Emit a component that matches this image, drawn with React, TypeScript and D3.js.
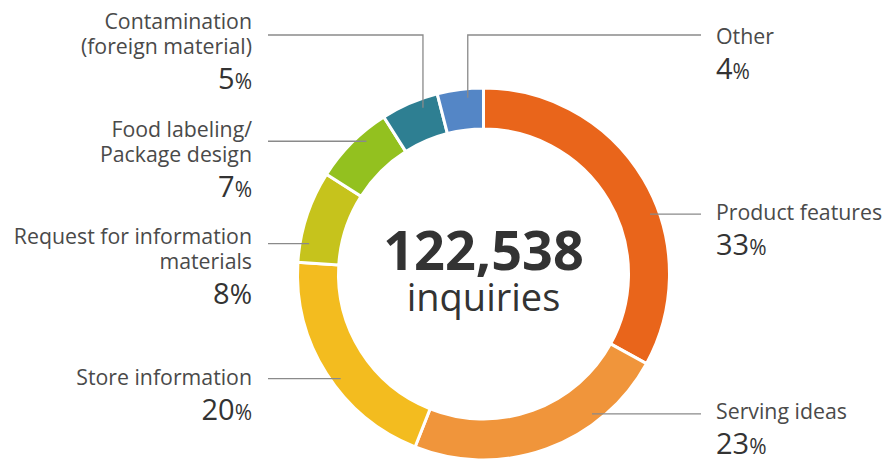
import React from "react";
import * as d3 from "d3";

const categories = [
  "Product features",
  "Serving ideas",
  "Store information",
  "Request for information materials",
  "Food labeling/ Package design",
  "Contamination (foreign material)",
  "Other",
];
const values = [33, 23, 20, 8, 7, 5, 4];
const colors = ["#E9651B", "#F0953B", "#F3BC1F", "#C6C31C", "#93C11F", "#2E7F92", "#5486C6"];
const labelLines = [
  ["Product features"],
  ["Serving ideas"],
  ["Store information"],
  ["Request for information", "materials"],
  ["Food labeling/", "Package design"],
  ["Contamination", "(foreign material)"],
  ["Other"],
];
const totalInquiries = 122538;
const totalLabel = "inquiries";

// label layout (side, first baseline, leader angle in degrees, optional elbow y, big % flag)
const layout = [
  { side: "right", y: 220, angle: 70.2, elbow: null, bigPct: false },
  { side: "right", y: 418.5, angle: 142.2, elbow: null, bigPct: false },
  { side: "left", y: 385, angle: 233.8, elbow: null, bigPct: true && false },
  { side: "left", y: 244, angle: 279.9, elbow: null, bigPct: true },
  { side: "left", y: 137, angle: 318.6, elbow: null, bigPct: false },
  { side: "left", y: 28.5, angle: 340.0, elbow: 35, bigPct: false },
  { side: "right", y: 43.5, angle: 354.9, elbow: 35, bigPct: false },
];

const W = 886;
const H = 459;
const cx = 483.5;
const cy = 274;
const outerR = 186;
const innerR = 145;
const leaderR = 177;
const leftX = 252;
const rightX = 716;
const lineLeftEnd = 268;
const lineRightEnd = 701;

export default function App() {
  const pie = d3.pie<number>().sort(null).value((d) => d)(values);
  const arc = d3.arc<d3.PieArcDatum<number>>().innerRadius(innerR).outerRadius(outerR);
  const fmt = d3.format(",");
  const font = "'Open Sans', 'Noto Sans', sans-serif";

  return (
    <svg
      width={W}
      height={H}
      style={{ position: "absolute", left: 0, top: 0, background: "#fff" }}
      fontFamily={font}
    >
      <g transform={`translate(${cx},${cy})`}>
        {pie.map((p, i) => (
          <path key={i} d={arc(p) || ""} fill={colors[i]} stroke="#fff" strokeWidth={3} />
        ))}
      </g>
      {layout.map((l, i) => {
        const a = (l.angle * Math.PI) / 180;
        const px = cx + leaderR * Math.sin(a);
        const py = cy - leaderR * Math.cos(a);
        const endX = l.side === "left" ? lineLeftEnd : lineRightEnd;
        const d =
          l.elbow !== null ? `M${px},${py}V${l.elbow}H${endX}` : `M${px},${py}H${endX}`;
        return <path key={i} d={d} fill="none" stroke="#8a8a8a" strokeWidth={1.3} />;
      })}
      {layout.map((l, i) => {
        const x = l.side === "left" ? leftX : rightX;
        const anchor = l.side === "left" ? "end" : "start";
        const lines = labelLines[i];
        const pctY = l.y + 25 * (lines.length - 1) + 35;
        return (
          <g key={i}>
            {lines.map((t, j) => (
              <text key={j} x={x} y={l.y + 25 * j} textAnchor={anchor} fontSize={21.3} fill="#4a4a4a">
                {t}
              </text>
            ))}
            <text x={x} y={pctY} textAnchor={anchor} fill="#333">
              <tspan fontSize={29}>{values[i]}</tspan>
              <tspan fontSize={l.bigPct ? 27 : 21}>%</tspan>
            </text>
          </g>
        );
      })}
      <text x={cx} y={270} textAnchor="middle" fontSize={54} fontWeight="bold" fill="#333">
        {fmt(totalInquiries)}
      </text>
      <text x={cx} y={311} textAnchor="middle" fontSize={38} fill="#333">
        {totalLabel}
      </text>
    </svg>
  );
}
